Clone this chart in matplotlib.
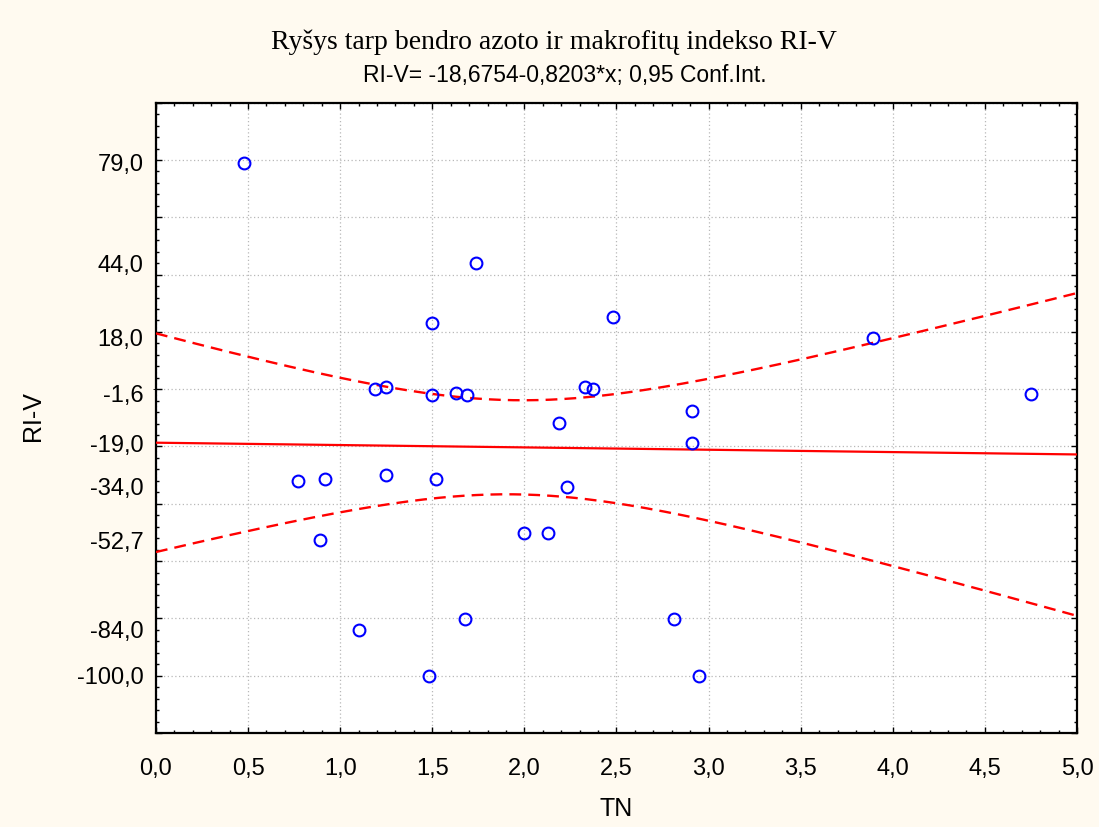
import numpy as np
import matplotlib
matplotlib.use("Agg")
import matplotlib.pyplot as plt
from matplotlib.ticker import MultipleLocator, NullFormatter

# Total nitrogen (TN) and macrophyte index RI-V per site
tn = [0.48, 1.74, 1.50, 2.48, 3.89, 4.75,
      1.19, 1.25, 1.50, 1.63, 1.69, 2.33, 2.37,
      2.91, 2.19, 2.91,
      0.77, 0.92, 1.25, 1.52, 2.23,
      0.89, 2.00, 2.13,
      1.10, 1.68, 2.81,
      1.48, 2.95]
ri_v = [79.0, 44.0, 23.2, 25.3, 18.0, -1.6,
        0.1, 0.9, -1.9, -1.3, -2.0, 0.8, 0.1,
        -7.6, -11.7, -18.7,
        -32.0, -31.3, -30.0, -31.3, -34.0,
        -52.7, -50.2, -50.2,
        -84.0, -80.1, -80.1,
        -100.0, -100.0]

# Fitted regression RI-V = a + b*TN
intercept = -18.6754
slope = -0.8203
t_crit = 2.0518  # two-sided 95 % quantile, df = 27

# Axis ticks and labels
x_ticks = [0.0, 0.5, 1.0, 1.5, 2.0, 2.5, 3.0, 3.5, 4.0, 4.5, 5.0]
x_labels = ["0,0", "0,5", "1,0", "1,5", "2,0", "2,5", "3,0", "3,5", "4,0", "4,5", "5,0"]
y_label_vals = [79.0, 44.0, 18.0, -1.6, -19.0, -34.0, -52.7, -84.0, -100.0]
y_label_text = ["79,0", "44,0", "18,0", "-1,6", "-19,0", "-34,0", "-52,7", "-84,0", "-100,0"]

title = "Ryšys tarp bendro azoto ir makrofitų indekso RI-V"
subtitle = "RI-V= -18,6754-0,8203*x; 0,95 Conf.Int."

bg = "#fffaf0"
fig = plt.figure(figsize=(10.99, 8.27), dpi=100, facecolor=bg)
ax = fig.add_axes([0.1419, 0.1137, 0.98 - 0.1419, 0.8758 - 0.1137])
ax.set_facecolor("white")

ax.set_xlim(0, 5)
ax.set_ylim(-120, 100)

# grid on the regular 20-unit lattice
ax.yaxis.set_major_locator(MultipleLocator(20))
ax.yaxis.set_minor_locator(MultipleLocator(4))
ax.yaxis.set_major_formatter(NullFormatter())
ax.set_xticks(x_ticks)
ax.set_xticklabels(x_labels)
ax.xaxis.set_minor_locator(MultipleLocator(0.1))
ax.grid(True, which="major", color="#b8b8b8", linestyle=(0, (1, 2)), linewidth=0.9)
ax.set_axisbelow(True)

ax.tick_params(which="both", direction="in", top=True, right=True,
               left=True, bottom=True, color="black")
ax.tick_params(which="major", length=4.5, width=1.0)
ax.tick_params(which="minor", length=2.5, width=1.0)
ax.tick_params(axis="x", which="major", pad=18, labelsize=17)
for sp in ax.spines.values():
    sp.set_linewidth(1.6)

# labelled values sit on their own scale positions
sec = ax.secondary_yaxis("left")
sec.set_yticks(y_label_vals)
sec.set_yticklabels(y_label_text)
sec.tick_params(length=0, pad=9, labelsize=17)
sec.spines["left"].set_visible(False)
sec.yaxis.set_minor_locator(MultipleLocator(1000))

for lab in ax.get_xticklabels() + sec.get_yticklabels():
    lab.set_family("Liberation Sans")

# regression line and confidence band
x = np.asarray(tn)
y = np.asarray(ri_v)
n = len(x)
resid = y - (intercept + slope * x)
s = np.sqrt(np.sum(resid ** 2) / (n - 2))
xbar = x.mean()
sxx = np.sum((x - xbar) ** 2)
xs = np.linspace(0, 5, 300)
fit = intercept + slope * xs
half = t_crit * s * np.sqrt(1.0 / n + (xs - xbar) ** 2 / sxx)

ax.plot(xs, fit, color="red", linewidth=1.6, zorder=3)
ax.plot(xs, fit + half, color="red", linewidth=1.7, linestyle=(0, (5, 3)), zorder=3)
ax.plot(xs, fit - half, color="red", linewidth=1.7, linestyle=(0, (5, 3)), zorder=3)

ax.plot(x, y, linestyle="none", marker="o", markersize=8.5,
        markerfacecolor="none", markeredgecolor="blue", markeredgewidth=1.5,
        zorder=4, clip_on=False)

ax.set_xlabel("TN", fontsize=18, family="Liberation Sans", labelpad=12)
fig.text(0.030, 0.497, "RI-V", rotation=90, ha="center", va="center",
         fontsize=18, family="Liberation Sans")

fig.text(0.504, 0.949, title, ha="center", va="center",
         fontsize=20, family="Liberation Serif")
fig.text(0.514, 0.909, subtitle, ha="center", va="center",
         fontsize=16.5, family="Liberation Sans")

fig.savefig("out.png", dpi=100, facecolor=bg)
